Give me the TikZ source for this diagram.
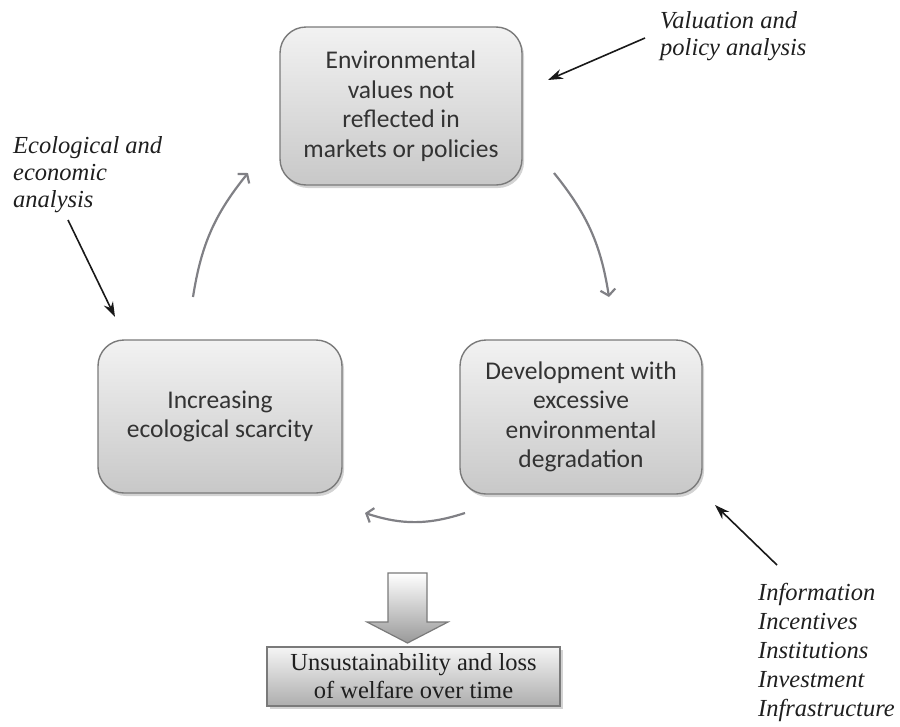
\documentclass[tikz,border=0pt]{standalone}
\usepackage{fontspec}
\setmainfont{Liberation Serif}
\newfontfamily\calfont{Carlito}
\usetikzlibrary{arrows.meta,shadows}
\definecolor{boxtop}{HTML}{F2F2F2}
\definecolor{boxbot}{HTML}{C8C8C8}
\definecolor{edgegray}{HTML}{7A7A7A}
\definecolor{cycgray}{HTML}{808085}
\definecolor{txtgray}{HTML}{333333}
\begin{document}
\begin{tikzpicture}[x=1pt,y=-1pt,
  cbox/.style={draw=edgegray, line width=1.4pt, rounded corners=26pt,
    top color=boxtop, bottom color=boxbot,
    drop shadow={shadow xshift=2pt,shadow yshift=-3pt,opacity=0.35},
    text=txtgray, font=\calfont\fontsize{25.5}{29.5}\selectfont,
    align=center, inner sep=0pt},
  lossbox/.style={draw=edgegray, line width=1.4pt,
    top color=white!96!black, bottom color=black!32,
    drop shadow={shadow xshift=3pt,shadow yshift=-3pt,opacity=0.35},
    text=black!88, font=\fontsize{24.5}{28}\selectfont,
    align=center, inner sep=0pt},
  note/.style={font=\itshape\fontsize{24.5}{27}\selectfont, text=black!88,
    align=left, inner sep=0pt, anchor=base west},
  cyc/.style={draw=cycgray, line width=2.2pt,
    -{Straight Barb[length=6pt,width=15pt]}},
  blk/.style={draw=black!90, line width=1.6pt,
    -{Stealth[length=15pt,width=10pt]}}
]
\useasboundingbox (0,0) rectangle (900,726);

% main boxes
\node[cbox, minimum width=242pt, minimum height=158pt] (env) at (401,106)
  {Environmental\\values not\\reflected in\\markets or policies};
\node[cbox, minimum width=244pt, minimum height=153pt] (scar) at (220,416.5)
  {Increasing\\ecological scarcity};
\node[cbox, minimum width=242pt, minimum height=154pt] (dev) at (581,417)
  {Development with\\excessive\\environmental\\degradation};

% outcome box
\node[lossbox, minimum width=293pt, minimum height=59pt] (loss) at (413.5,676.5)
  {Unsustainability and loss\\of welfare over time};

% block arrow down
\path[draw=edgegray, line width=1.2pt, top color=white, bottom color=black!40]
  (388,573) -- (427,573) -- (427,622) -- (448,622) -- (407.5,643)
  -- (367,622) -- (388,622) -- cycle;

% cycle arrows
\coordinate (c1) at (193,297); \coordinate (c2) at (248,173);
\coordinate (c3) at (554,173); \coordinate (c4) at (609,297);
\coordinate (c5) at (465,513); \coordinate (c6) at (365,513);
\draw[cyc] (c1) to[bend left=15] (c2);
\draw[cyc] (c3) to[bend left=15] (c4);
\draw[cyc] (c5) to[bend left=18] (c6);

% annotations (base anchor = baseline of last line)
\node[note] (val) at (660,55) {Valuation and\\policy analysis};
\node[note] (eco) at (13,207) {Ecological and\\economic\\analysis};
\node[note, font=\itshape\fontsize{24.5}{29}\selectfont] (inst) at (758,716)
  {Information\\Incentives\\Institutions\\Investment\\Infrastructure};

\coordinate (va) at (645,38); \coordinate (vb) at (548,80);
\coordinate (ea) at (68,220); \coordinate (eb) at (115,317);
\coordinate (ia) at (777,565); \coordinate (ib) at (715,505);
\draw[blk] (va) -- (vb);
\draw[blk] (ea) -- (eb);
\draw[blk] (ia) -- (ib);
\end{tikzpicture}
\end{document}
